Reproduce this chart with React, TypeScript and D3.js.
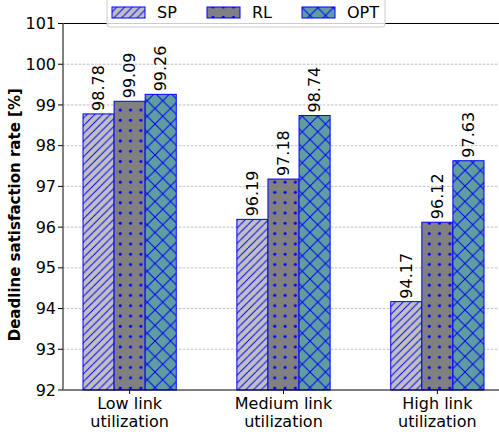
import React, { useEffect, useRef } from 'react'
import * as d3 from 'd3'

const categories = ['Low link\nutilization', 'Medium link\nutilization', 'High link\nutilization']
const seriesNames = ['SP', 'RL', 'OPT']
const spValues = [98.78, 96.19, 94.17]
const rlValues = [99.09, 97.18, 96.12]
const optValues = [99.26, 98.74, 97.63]
const yTicks = [92, 93, 94, 95, 96, 97, 98, 99, 100, 101]

const W = 499
const H = 435

export default function App() {
  const ref = useRef<SVGSVGElement>(null)

  useEffect(() => {
    const svg = d3.select(ref.current)
    svg.selectAll('*').remove()

    const left = 63, right = 504, top = 23.5, bottom = 390
    const font = 'DejaVu Sans'
    const blue = '#0000ff'
    const fs = 16

    const defs = svg.append('defs')
    // hatch patterns
    const p1 = defs.append('pattern').attr('id', 'hSP').attr('patternUnits', 'userSpaceOnUse')
      .attr('width', 7.75).attr('height', 7.75)
    p1.append('rect').attr('width', 7.75).attr('height', 7.75).attr('fill', '#c0c0c0')
    p1.append('path').attr('d', 'M-1,8.75 L8.75,-1 M-2,1.75 L1.75,-2 M6,9.75 L9.75,6')
      .attr('stroke', blue).attr('stroke-width', 1)

    const p2 = defs.append('pattern').attr('id', 'hRL').attr('patternUnits', 'userSpaceOnUse')
      .attr('width', 10.3).attr('height', 10.3).attr('x', 2).attr('y', 2)
    p2.append('rect').attr('width', 10.3).attr('height', 10.3).attr('fill', '#808080')
    p2.append('circle').attr('cx', 5).attr('cy', 5).attr('r', 1.5).attr('fill', blue)

    const p3 = defs.append('pattern').attr('id', 'hOPT').attr('patternUnits', 'userSpaceOnUse')
      .attr('width', 15.5).attr('height', 15.5)
    p3.append('rect').attr('width', 15.5).attr('height', 15.5).attr('fill', '#5f9ea0')
    p3.append('path').attr('d', 'M0,0 L15.5,15.5 M0,15.5 L15.5,0')
      .attr('stroke', blue).attr('stroke-width', 1)

    const fills = ['url(#hSP)', 'url(#hRL)', 'url(#hOPT)']
    const values = [spValues, rlValues, optValues]

    const x0 = d3.scaleBand<string>().domain(categories).range([left, right])
      .paddingInner(0.394).paddingOuter(0.13)
    const x1 = d3.scaleBand<string>().domain(seriesNames).range([0, x0.bandwidth()])
    const y = d3.scaleLinear().domain([92, 101]).range([bottom, top])

    // grid
    svg.append('g').selectAll('line').data(yTicks.slice(1, -1)).enter().append('line')
      .attr('x1', left).attr('x2', right)
      .attr('y1', d => y(d)).attr('y2', d => y(d))
      .attr('stroke', '#b0b0b0').attr('stroke-width', 0.8).attr('stroke-dasharray', '2.5,1.5')

    // bars
    seriesNames.forEach((s, si) => {
      const g = svg.append('g')
      g.selectAll('rect').data(values[si]).enter().append('rect')
        .attr('x', (d, i) => x0(categories[i])! + x1(s)!)
        .attr('y', d => y(d))
        .attr('width', x1.bandwidth())
        .attr('height', d => bottom - y(d))
        .attr('fill', fills[si])
        .attr('stroke', blue).attr('stroke-width', 1)
      g.selectAll('text').data(values[si]).enter().append('text')
        .attr('transform', (d, i) => {
          const cx = x0(categories[i])! + x1(s)! + x1.bandwidth() / 2
          return `translate(${cx},${y(d) - 3}) rotate(-90)`
        })
        .attr('dy', '0.35em')
        .attr('font-family', font).attr('font-size', fs)
        .text(d => d.toFixed(2))
    })

    // spines
    svg.append('line').attr('x1', left).attr('x2', right).attr('y1', top).attr('y2', top)
      .attr('stroke', '#000').attr('stroke-width', 1.2)
    svg.append('line').attr('x1', left).attr('x2', right).attr('y1', bottom).attr('y2', bottom)
      .attr('stroke', '#000').attr('stroke-width', 1.2)
    svg.append('line').attr('x1', left).attr('x2', left).attr('y1', top).attr('y2', bottom)
      .attr('stroke', '#808080').attr('stroke-width', 2)

    // y ticks
    const yt = svg.append('g').selectAll('g').data(yTicks).enter().append('g')
    yt.append('line').attr('x1', left - 5).attr('x2', left).attr('y1', d => y(d)).attr('y2', d => y(d))
      .attr('stroke', '#000').attr('stroke-width', 1)
    yt.append('text').attr('x', left - 7).attr('y', d => y(d)).attr('dy', '0.35em')
      .attr('text-anchor', 'end').attr('font-family', font).attr('font-size', fs)
      .text(d => d)

    // x ticks
    const xt = svg.append('g').selectAll('g').data(categories).enter().append('g')
    xt.append('line')
      .attr('x1', d => x0(d)! + x0.bandwidth() / 2).attr('x2', d => x0(d)! + x0.bandwidth() / 2)
      .attr('y1', bottom).attr('y2', bottom + 4).attr('stroke', '#000')
    xt.each(function (d) {
      const lines = d.split('\n')
      const t = d3.select(this).append('text')
        .attr('text-anchor', 'middle').attr('font-family', font).attr('font-size', fs)
      lines.forEach((l, i) => {
        t.append('tspan').attr('x', x0(d)! + x0.bandwidth() / 2).attr('y', 409 + i * 18).text(l)
      })
    })

    // y label
    svg.append('text')
      .attr('transform', `translate(20,${(top + bottom) / 2 + 8}) rotate(-90)`)
      .attr('text-anchor', 'middle').attr('font-family', font).attr('font-size', 15)
      .attr('font-weight', 'bold')
      .text('Deadline satisfaction rate [%]')

    // legend
    const lg = svg.append('g')
    lg.append('rect').attr('x', 107).attr('y', -5).attr('width', 278).attr('height', 32).attr('rx', 3)
      .attr('fill', '#fff').attr('fill-opacity', 0.8).attr('stroke', '#cccccc')
    const lx = [112, 207, 302]
    seriesNames.forEach((s, i) => {
      lg.append('rect').attr('x', lx[i]).attr('y', 7).attr('width', 33).attr('height', 11)
        .attr('fill', fills[i]).attr('stroke', blue).attr('stroke-width', 1)
      lg.append('text').attr('x', lx[i] + 45).attr('y', 12.5).attr('dy', '0.35em')
        .attr('font-family', font).attr('font-size', fs).text(s)
    })
  }, [])

  return <svg ref={ref} width={W} height={H} style={{ position: 'absolute', left: 0, top: 0 }}></svg>
}
